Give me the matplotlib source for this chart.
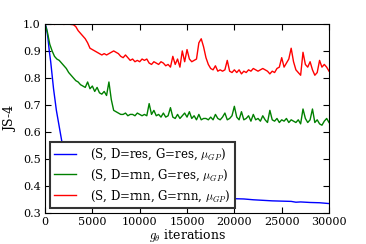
import numpy as np
import matplotlib
matplotlib.use("Agg")
import matplotlib.pyplot as plt

plt.rcParams['font.family'] = 'DejaVu Serif'
plt.rcParams['mathtext.fontset'] = 'cm'
plt.rcParams['font.size'] = 8

# x grid for the two noisy curves (every 250 iterations)
iters = np.arange(0, 30001, 250)

# (S, D=rnn, G=rnn) - red
js_rnn_rnn = [
    1.0, 1.0, 0.999, 1.0, 0.998, 1.0, 0.999, 1.0, 0.998, 1.0,
    0.999, 0.998, 0.997, 0.99, 0.975, 0.965, 0.955, 0.945, 0.93, 0.91,
    0.905, 0.9, 0.895, 0.89, 0.885, 0.89, 0.885, 0.89, 0.895, 0.9,
    0.895, 0.89, 0.88, 0.875, 0.885, 0.875, 0.865, 0.87, 0.86, 0.865,
    0.86, 0.87, 0.865, 0.87, 0.855, 0.85, 0.86, 0.855, 0.85, 0.86,
    0.855, 0.845, 0.85, 0.84, 0.88, 0.85, 0.87, 0.84, 0.9, 0.86,
    0.905, 0.87, 0.86, 0.865, 0.87, 0.93, 0.945, 0.915, 0.875, 0.85,
    0.835, 0.83, 0.845, 0.825, 0.83, 0.825, 0.83, 0.865, 0.825, 0.82,
    0.83, 0.82, 0.83, 0.815, 0.825, 0.82, 0.83, 0.825, 0.835, 0.83,
    0.825, 0.83, 0.835, 0.83, 0.825, 0.815, 0.825, 0.82, 0.835, 0.84,
    0.875, 0.84, 0.855, 0.87, 0.91, 0.86, 0.83, 0.82, 0.81, 0.895,
    0.85, 0.84, 0.86, 0.83, 0.81, 0.82, 0.865, 0.84, 0.85, 0.84,
    0.825,
]

# (S, D=rnn, G=res) - green
js_rnn_res = [
    1.0, 0.97, 0.925, 0.9, 0.88, 0.87, 0.865, 0.855, 0.845, 0.835,
    0.82, 0.81, 0.80, 0.79, 0.785, 0.775, 0.77, 0.765, 0.785, 0.76,
    0.77, 0.75, 0.765, 0.745, 0.74, 0.75, 0.735, 0.785, 0.72, 0.68,
    0.675, 0.67, 0.665, 0.665, 0.67, 0.66, 0.665, 0.665, 0.66, 0.67,
    0.665, 0.66, 0.665, 0.66, 0.705, 0.665, 0.68, 0.66, 0.665, 0.655,
    0.67, 0.655, 0.66, 0.69, 0.655, 0.65, 0.665, 0.65, 0.66, 0.67,
    0.655, 0.675, 0.65, 0.66, 0.645, 0.665, 0.645, 0.65, 0.65, 0.645,
    0.655, 0.645, 0.665, 0.65, 0.645, 0.655, 0.67, 0.645, 0.65, 0.66,
    0.695, 0.655, 0.645, 0.675, 0.645, 0.65, 0.66, 0.64, 0.665, 0.645,
    0.65, 0.64, 0.66, 0.645, 0.635, 0.68, 0.645, 0.64, 0.65, 0.635,
    0.645, 0.64, 0.65, 0.635, 0.645, 0.64, 0.635, 0.645, 0.63, 0.685,
    0.65, 0.635, 0.645, 0.685, 0.635, 0.645, 0.63, 0.625, 0.64, 0.65,
    0.635,
]

# (S, D=res, G=res) - blue
blue_iters = [0, 150, 300, 450, 600, 750, 900, 1050, 1200, 1400, 1600, 1800,
              2000, 2500, 3000, 4000, 5000, 6000, 7500, 10000, 12500, 15000,
              17500, 19000, 20000, 21000, 22000, 23000, 24000, 25000, 26000,
              26500, 27000, 28000, 29000, 30000]
js_res_res = [1.0, 0.985, 0.95, 0.9, 0.86, 0.81, 0.76, 0.72, 0.68, 0.64, 0.6,
              0.56, 0.53, 0.48, 0.45, 0.42, 0.4, 0.39, 0.38, 0.37, 0.365, 0.36,
              0.357, 0.356, 0.353, 0.352, 0.349, 0.347, 0.345, 0.344, 0.343,
              0.340, 0.341, 0.339, 0.338, 0.335]

labels = [r'(S, D=res, G=res, $\mu_{GP}$)',
          r'(S, D=rnn, G=res, $\mu_{GP}$)',
          r'(S, D=rnn, G=rnn, $\mu_{GP}$)']

fig = plt.figure(figsize=(3.66, 2.44), dpi=100)
ax = fig.add_axes([0.123, 0.127, 0.776, 0.775])

ax.plot(blue_iters, js_res_res, color='b', lw=1, label=labels[0])
ax.plot(iters, js_rnn_res, color='g', lw=1, label=labels[1])
ax.plot(iters, js_rnn_rnn, color='r', lw=1, label=labels[2])

ax.set_xlim(0, 30000)
ax.set_ylim(0.3, 1.0)
ax.set_xticks(np.arange(0, 30001, 5000))
ax.set_yticks(np.arange(0.3, 1.01, 0.1))
ax.set_yticklabels(['%.1f' % v for v in np.arange(0.3, 1.01, 0.1)])
ax.tick_params(direction='in', top=True, right=True, labelsize=8, length=4,
               pad=3)
ax.set_xlabel(r'$g_\theta$ iterations', fontsize=9, labelpad=0)
ax.set_ylabel('JS-4', fontsize=9, labelpad=4)

leg = ax.legend(loc='lower left', fontsize=8.5, fancybox=False, framealpha=1,
                borderaxespad=0.4, handlelength=1.8, labelspacing=0.45,
                handletextpad=1.2)
leg.get_frame().set_edgecolor('#333333')
leg.get_frame().set_linewidth(1.5)

fig.savefig('out.png', dpi=100)
